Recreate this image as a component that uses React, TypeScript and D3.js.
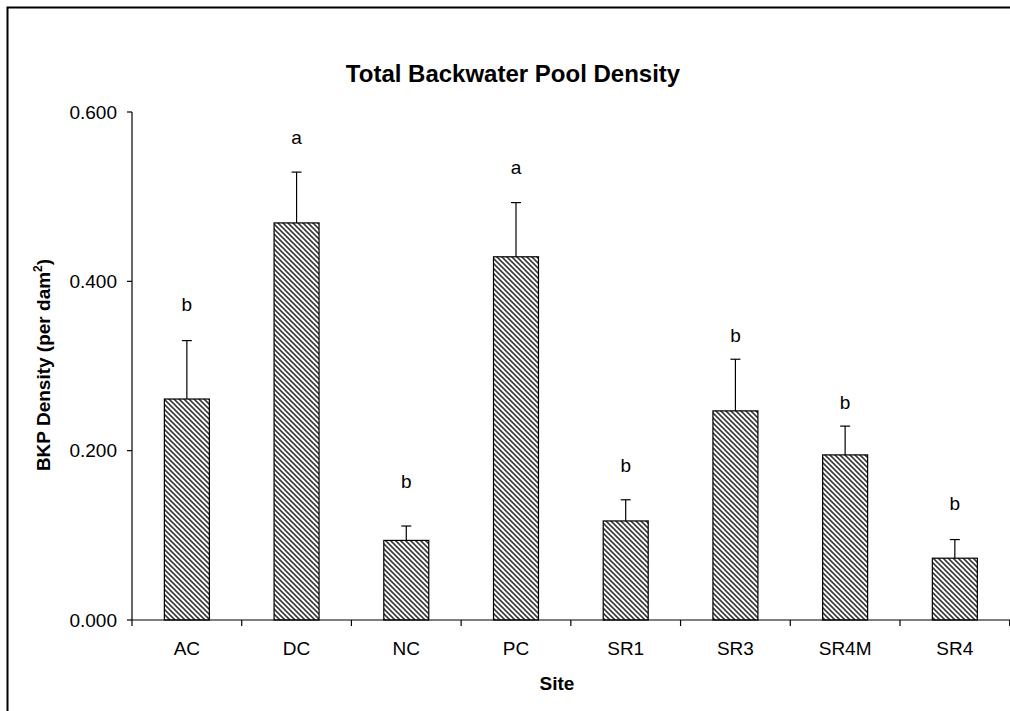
import React from "react";
import * as d3 from "d3";

const sites = ["AC", "DC", "NC", "PC", "SR1", "SR3", "SR4M", "SR4"];
const density = [0.261, 0.469, 0.094, 0.429, 0.117, 0.247, 0.195, 0.073];
const stdErr = [0.069, 0.060, 0.017, 0.064, 0.025, 0.061, 0.034, 0.022];
const groupLetters = ["b", "a", "b", "a", "b", "b", "b", "b"];
const letterLevel = [0.365, 0.562, 0.156, 0.527, 0.175, 0.328, 0.249, 0.13];
const yTicks = [0, 0.2, 0.4, 0.6];

const W = 1010;
const H = 711;
const FONT = "Arial, 'Liberation Sans', sans-serif";

export default function App() {
  const left = 132;
  const right = 1009.7;
  const top = 112;
  const bottom = 620;

  const x = d3
    .scaleBand<string>()
    .domain(sites)
    .range([left, right])
    .paddingInner(0.59)
    .paddingOuter(0.295);
  const y = d3.scaleLinear().domain([0, 0.6]).range([bottom, top]);
  const step = x.step();
  const bw = x.bandwidth();
  const fmt = d3.format(".3f");

  return (
    <svg
      width={W}
      height={H}
      style={{ position: "absolute", left: 0, top: 0, background: "#fff" }}
    >
      <defs>
        <pattern id="hatch" patternUnits="userSpaceOnUse" width={5} height={5}>
          <rect width={5} height={5} fill="#fff" />
          <path
            d="M0,0 L5,5 M4,-1 L6,1 M-1,4 L1,6"
            stroke="#3a3a3a"
            strokeWidth={1.6}
          />
        </pattern>
      </defs>
      <rect x={0} y={0} width={W} height={H} fill="#fff" />
      <rect
        x={7.5}
        y={7.5}
        width={W + 20}
        height={H + 20}
        fill="none"
        stroke="#000"
        strokeWidth={2}
      />

      <text
        x={513}
        y={82}
        textAnchor="middle"
        fontFamily={FONT}
        fontWeight="bold"
        fontSize={24}
      >
        Total Backwater Pool Density
      </text>

      {/* bars */}
      {sites.map((s, i) => (
        <rect
          key={s}
          x={x(s)}
          y={y(density[i])}
          width={bw}
          height={y(0) - y(density[i])}
          fill="url(#hatch)"
          stroke="#000"
          strokeWidth={1.2}
        />
      ))}

      {/* error bars */}
      {sites.map((s, i) => {
        const cx = (x(s) as number) + bw / 2;
        const yt = y(density[i] + stdErr[i]);
        return (
          <g key={s} stroke="#000" strokeWidth={1.2}>
            <line x1={cx} x2={cx} y1={y(density[i])} y2={yt} />
            <line x1={cx - 5} x2={cx + 5} y1={yt} y2={yt} />
          </g>
        );
      })}

      {/* letters */}
      {sites.map((s, i) => (
        <text
          key={s}
          x={(x(s) as number) + bw / 2}
          y={y(letterLevel[i])}
          textAnchor="middle"
          fontFamily={FONT}
          fontSize={19}
        >
          {groupLetters[i]}
        </text>
      ))}

      {/* y axis */}
      <line x1={left} x2={left} y1={top} y2={bottom} stroke="#000" strokeWidth={1.2} />
      {yTicks.map((t) => (
        <g key={t}>
          <line x1={left - 5} x2={left} y1={y(t)} y2={y(t)} stroke="#000" strokeWidth={1.2} />
          <text
            x={117}
            y={y(t)}
            dy="0.35em"
            textAnchor="end"
            fontFamily={FONT}
            fontSize={19}
          >
            {fmt(t)}
          </text>
        </g>
      ))}

      {/* x axis */}
      <line x1={left} x2={W} y1={bottom} y2={bottom} stroke="#000" strokeWidth={1.2} />
      {d3.range(sites.length + 1).map((k) => (
        <line
          key={k}
          x1={left + k * step}
          x2={left + k * step}
          y1={bottom}
          y2={bottom + 6}
          stroke="#000"
          strokeWidth={1.2}
        />
      ))}
      {sites.map((s) => (
        <text
          key={s}
          x={(x(s) as number) + bw / 2}
          y={655}
          textAnchor="middle"
          fontFamily={FONT}
          fontSize={19}
        >
          {s}
        </text>
      ))}

      <text
        x={557}
        y={690}
        textAnchor="middle"
        fontFamily={FONT}
        fontWeight="bold"
        fontSize={19}
      >
        Site
      </text>

      <text
        transform={`translate(50,${(top + bottom) / 2 - 1}) rotate(-90)`}
        textAnchor="middle"
        fontFamily={FONT}
        fontWeight="bold"
        fontSize={19}
      >
        BKP Density (per dam
        <tspan fontSize={12} dy={-8}>
          2
        </tspan>
        <tspan dy={8}>)</tspan>
      </text>
    </svg>
  );
}
